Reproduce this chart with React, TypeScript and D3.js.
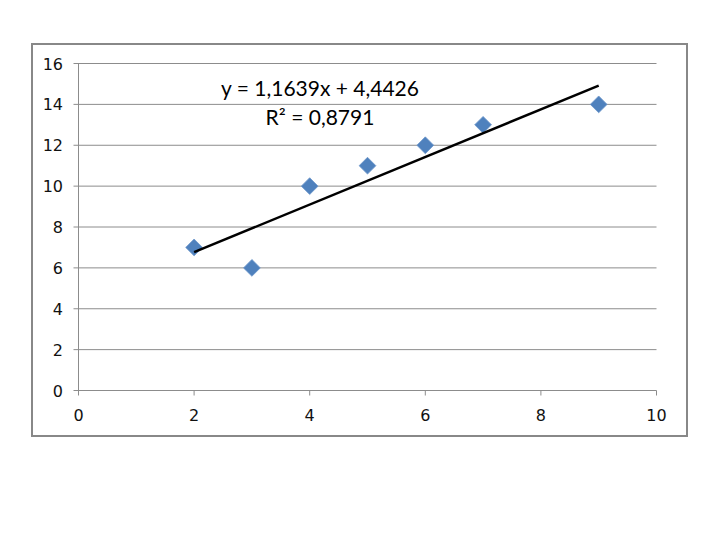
import React from "react";
import * as d3 from "d3";

const xValues = [2, 3, 4, 5, 6, 7, 9];
const yValues = [7, 6, 10, 11, 12, 13, 14];
const slope = 1.1639;
const intercept = 4.4426;
const xTicks = [0, 2, 4, 6, 8, 10];
const yTicks = [0, 2, 4, 6, 8, 10, 12, 14, 16];
const eqLabel = "y = 1,1639x + 4,4426";
const r2Label = "R² = 0,8791";

export default function App() {
  const x = d3.scaleLinear().domain([0, 10]).range([78.5, 656.5]);
  const y = d3.scaleLinear().domain([0, 16]).range([390.5, 63.5]);
  const diamond = d3.symbol().type(d3.symbolDiamond2).size(180)();
  const xMin = d3.min(xValues)!;
  const xMax = d3.max(xValues)!;
  const tick = "DejaVu Sans, Verdana, sans-serif";
  return (
    <svg width={720} height={540} style={{ position: "absolute", left: 0, top: 0 }}>
      <rect x={0} y={0} width={720} height={540} fill="#fff" />
      <rect x={32} y={44} width={655} height={392} fill="#fff" stroke="#888" strokeWidth={2} />
      {yTicks.map((t) => (
        <g key={"y" + t}>
          <line x1={x(0) - 5} x2={x(10)} y1={y(t)} y2={y(t)} stroke="#8c8c8c" strokeWidth={1} />
          <text x={63} y={y(t) + 6} textAnchor="end" fontFamily={tick} fontSize={16} fill="#111">{t}</text>
        </g>
      ))}
      <line x1={x(0)} x2={x(0)} y1={y(16)} y2={y(0)} stroke="#8c8c8c" strokeWidth={1} />
      {xTicks.map((t) => (
        <g key={"x" + t}>
          <line x1={x(t)} x2={x(t)} y1={y(0)} y2={y(0) + 5} stroke="#8c8c8c" strokeWidth={1} />
          <text x={x(t)} y={421} textAnchor="middle" fontFamily={tick} fontSize={16} fill="#111">{t}</text>
        </g>
      ))}
      {xValues.map((v, i) => (
        <path key={"p" + i} d={diamond} transform={`translate(${x(v)},${y(yValues[i])})`} fill="#4F81BD" stroke="#6f98cc" strokeWidth={0.8} />
      ))}
      <line
        x1={x(xMin)} y1={y(slope * xMin + intercept)}
        x2={x(xMax)} y2={y(slope * xMax + intercept)}
        stroke="#000" strokeWidth={2.5}
      />
      <text x={320} y={96} textAnchor="middle" fontFamily="Lato, Open Sans, sans-serif" fontSize={21} fill="#000">{eqLabel}</text>
      <text x={320} y={125} textAnchor="middle" fontFamily="Lato, Open Sans, sans-serif" fontSize={21} fill="#000">{r2Label}</text>
    </svg>
  );
}
